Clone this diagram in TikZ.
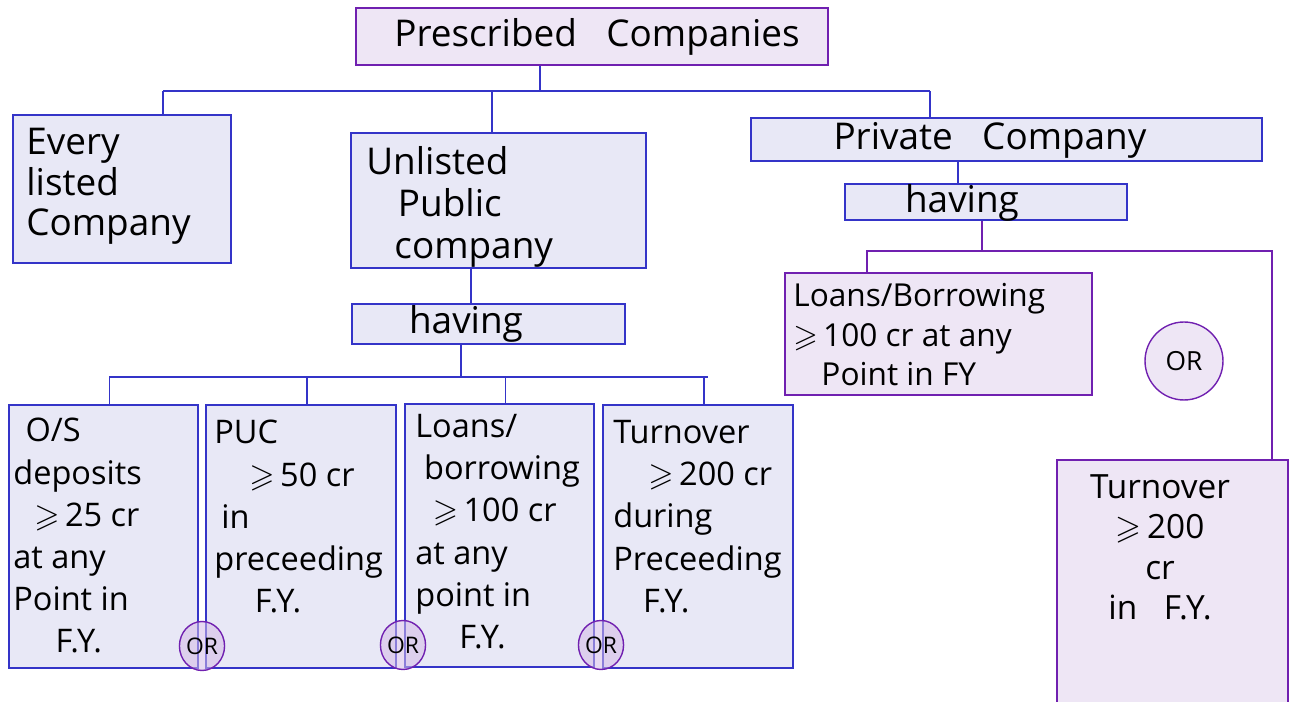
\documentclass[tikz,border=0pt]{standalone}
\usepackage{amsmath, amssymb}
\usepackage{fontspec}
\setmainfont{Open Sans}
\usetikzlibrary{fit, shapes.geometric}

\definecolor{boxblue}{RGB}{52,52,200}
\definecolor{boxfill}{RGB}{232,232,246}
\definecolor{boxpurple}{RGB}{112,32,176}
\definecolor{purplefill}{RGB}{238,230,245}

\tikzset{
  bluebox/.style={draw=boxblue, fill=boxfill, line width=1pt, inner sep=0pt},
  purplebox/.style={draw=boxpurple, fill=purplefill, line width=1pt, inner sep=0pt},
  blueline/.style={draw=boxblue, line width=1pt},
  purpleline/.style={draw=boxpurple, line width=1pt},
  ortag/.style={ellipse, draw=boxpurple, line width=0.8pt, fill=boxpurple!30, fill opacity=0.55, text opacity=1, inner sep=0pt, font=\fontsize{13}{13}\selectfont},
  hand/.style={inner sep=0pt, align=left, font=\fontsize{18.5}{24}\selectfont},
}

\begin{document}
\begin{tikzpicture}[x=0.02cm, y=-0.02cm]

        \useasboundingbox (0,0) rectangle (1309,702);

        \node[purplebox, fit={(356,8) (828,65)}] (top) {};
        \node[hand, font=\fontsize{21}{24}\selectfont] (toptxt) at (597,37) {Prescribed \; Companies};

        \node[bluebox, fit={(13,115) (231,263)}] (every) {};
        \node[hand, font=\fontsize{21}{24}\selectfont, anchor=north west] (everytxt) at (26,128) {Every\\[-1pt]listed\\[-1pt]Company};

        \node[bluebox, fit={(351,133) (646,268)}] (unlisted) {};
        \node[hand, font=\fontsize{21}{24}\selectfont, anchor=north west] (unlistedtxt) at (366,146) {Unlisted\\\hspace*{18pt}Public\\\hspace*{16pt}company};

        \node[bluebox, fit={(751,118) (1262,161)}] (private) {};
        \node[hand, font=\fontsize{21}{24}\selectfont] (privatetxt) at (990,140) {Private \; Company};

        \node[bluebox, fit={(352,304) (625,344)}] (hav1) {};
        \node[hand, font=\fontsize{21}{24}\selectfont] (hav1txt) at (466,324) {having};

        \node[bluebox, fit={(845,184) (1127,220)}] (hav2) {};
        \node[hand, font=\fontsize{21}{24}\selectfont] (hav2txt) at (962,203) {having};

        \node[bluebox, fit={(9,405) (198,668)}] (b1) {};
        \node[bluebox, fit={(206,405) (396,668)}] (b2) {};
        \node[bluebox, fit={(405,404) (594,667)}] (b3) {};
        \node[bluebox, fit={(603,405) (793,668)}] (b4) {};

        \node[hand, anchor=north west] (b1txt) at (13,418) {\hspace*{7pt}O/S\\deposits\\\hspace*{12pt}$\geqslant$\,25 cr\\at any\\Point in\\\hspace*{24pt}F.Y.};
        \node[hand, anchor=north west] (b2txt) at (214,420) {PUC\\\hspace*{20pt}$\geqslant$\,50 cr\\\hspace*{4pt}in\\preceeding\\\hspace*{23pt}F.Y.};
        \node[hand, anchor=north west] (b3txt) at (415,414) {Loans/\\\hspace*{5pt}borrowing\\\hspace*{10pt}$\geqslant$\,100 cr\\at any\\point in\\\hspace*{25pt}F.Y.};
        \node[hand, anchor=north west] (b4txt) at (613,420) {Turnover\\\hspace*{20pt}$\geqslant$\,200 cr\\during\\Preceeding\\\hspace*{17pt}F.Y.};

        \node[purplebox, fit={(785,273) (1092,395)}] (loans) {};
        \node[hand, font=\fontsize{18}{22.5}\selectfont, anchor=north west] (loanstxt) at (793,283) {Loans/Borrowing\\$\geqslant$\,100 cr at any\\\hspace*{16pt}Point in FY};

        \node[purplebox, fit={(1057,460) (1288,712)}] (turn) {};
        \node[hand, font=\fontsize{19}{23}\selectfont, align=center, anchor=north] (turntxt) at (1160,474) {Turnover\\$\geqslant$\,200\\cr\\in \; F.Y.};

        \node[ortag, minimum width=0.66cm, minimum height=0.98cm] (or1) at (202,646) {OR};
        \node[ortag, minimum width=0.66cm, minimum height=0.98cm] (or2) at (403,645) {OR};
        \node[ortag, minimum width=0.66cm, minimum height=0.98cm] (or3) at (601,645) {OR};
        \node[ortag, circle, fill=purplefill, fill opacity=1, minimum size=1.56cm, font=\fontsize{15}{15}\selectfont] (or4) at (1184,361) {OR};

        \coordinate (topj) at (540,91);
        \coordinate (lj) at (163,91);
        \coordinate (mj) at (492,91);
        \coordinate (rj) at (930,91);
        \coordinate (bj) at (461,377);
        \coordinate (pj) at (982,251);
        \coordinate (pl) at (867,251);
        \coordinate (pr) at (1272,251);

        \draw[blueline] (top.south -| topj) -- (topj);
        \draw[blueline] (lj) -- (rj);
        \draw[blueline] (lj) -- (every.north -| lj);
        \draw[blueline] (mj) -- (unlisted.north -| mj);
        \draw[blueline] (rj) -- (private.north -| rj);

        \draw[blueline] (unlisted.south -| 471,0) -- (hav1.north -| 471,0);
        \draw[blueline] (hav1.south -| bj) -- (bj);
        \draw[blueline] ([xshift=0.12cm]b1.north) -- ([xshift=0.12cm]b1.north |- bj) -- ([xshift=0.2cm]b4.north |- bj);
        \draw[blueline] ([xshift=0.12cm]b2.north) -- ([xshift=0.12cm]b2.north |- bj);
        \draw[blueline] ([xshift=0.12cm]b3.north) -- ([xshift=0.12cm]b3.north |- bj);
        \draw[blueline] ([xshift=0.12cm]b4.north) -- ([xshift=0.12cm]b4.north |- bj);

        \draw[blueline] (private.south -| 958,0) -- (hav2.north -| 958,0);
        \draw[purpleline] (hav2.south -| pj) -- (pj);
        \draw[purpleline] (loans.north -| pl) -- (pl) -- (pr) -- (turn.north -| pr);

    \end{tikzpicture}
\end{document}
